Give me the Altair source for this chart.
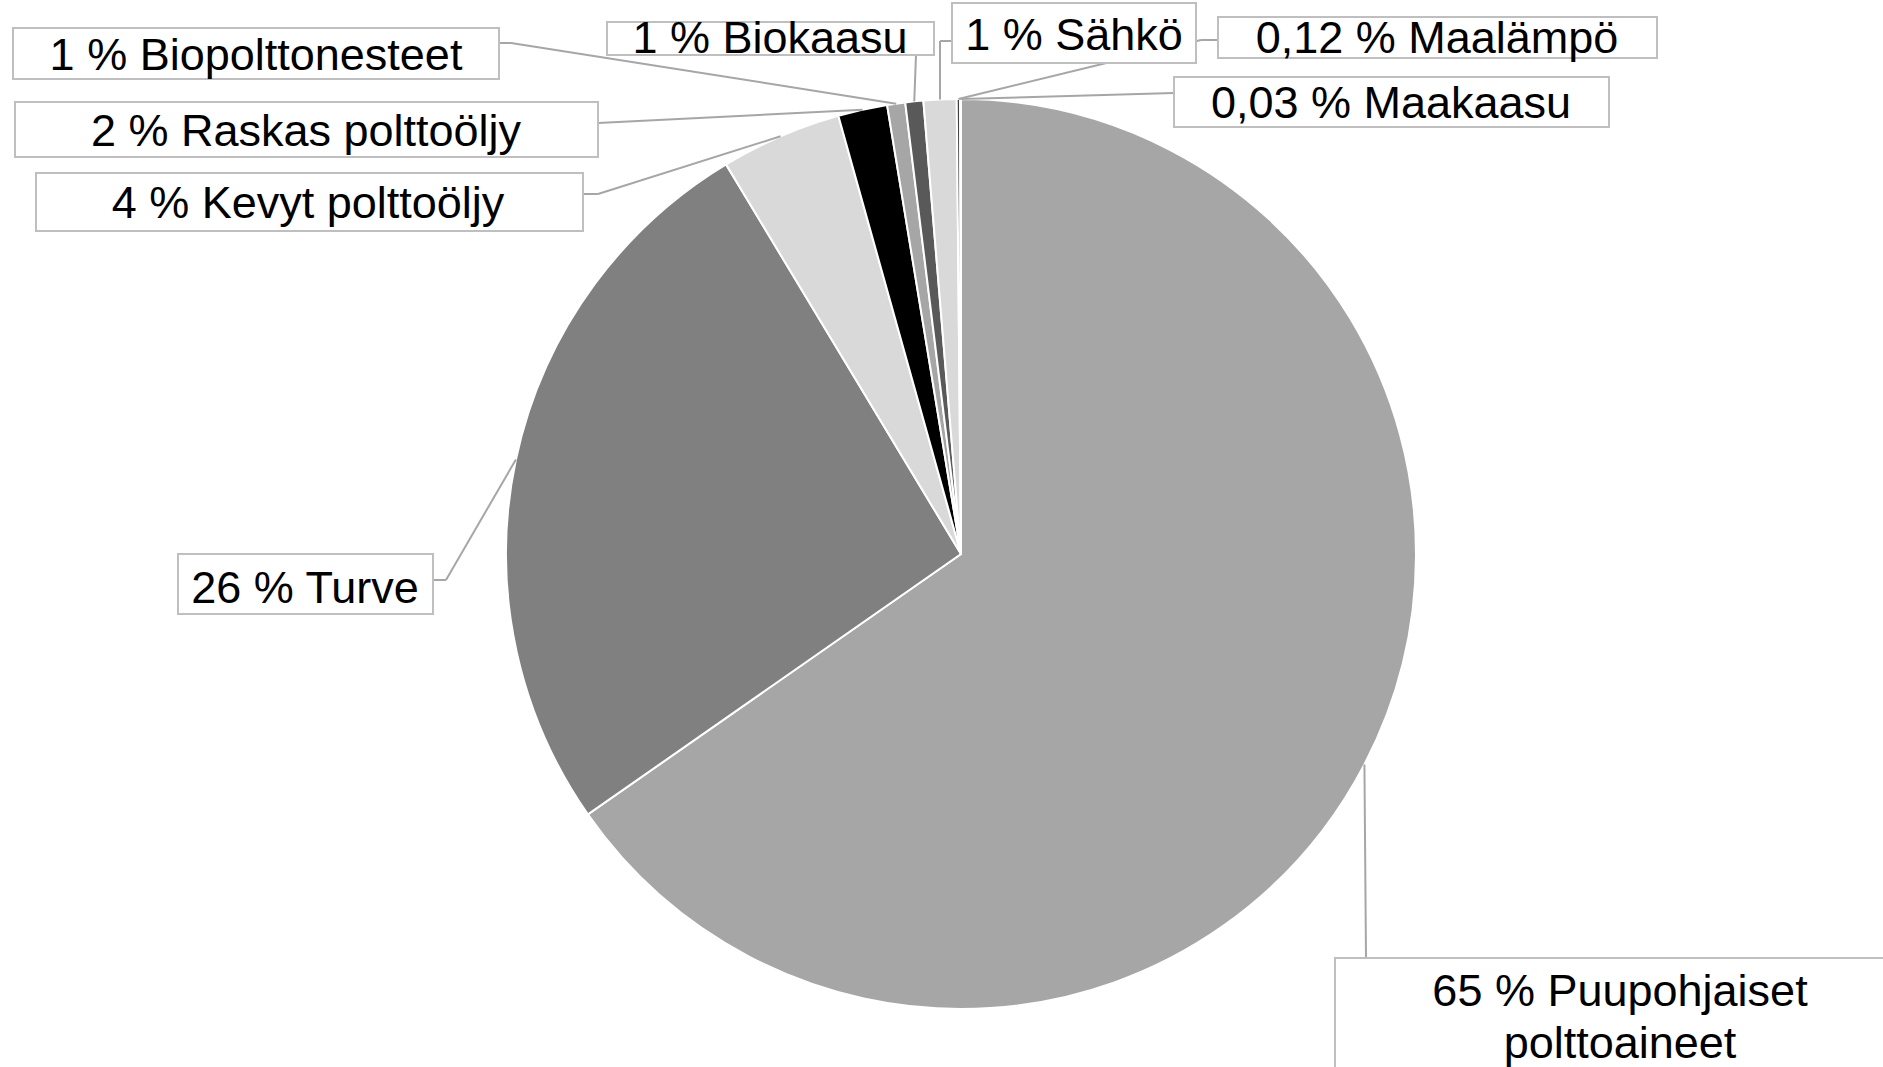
import math
import altair as alt
import pandas as pd

# ---------------- data ----------------
categories = [
    "Puupohjaiset polttoaineet", "Turve", "Kevyt polttoöljy", "Raskas polttoöljy",
    "Biopolttonesteet", "Biokaasu", "Sähkö", "Maalämpö", "Maakaasu",
]
values = [65.4, 26.1, 4.3, 1.75, 0.64, 0.64, 1.17, 0.12, 0.03]
labels = [
    "65 % Puupohjaiset\npolttoaineet", "26 % Turve", "4 % Kevyt polttoöljy",
    "2 % Raskas polttoöljy", "1 % Biopolttonesteet", "1 % Biokaasu",
    "1 % Sähkö", "0,12 % Maalämpö", "0,03 % Maakaasu",
]
colors = ["#a6a6a6", "#808080", "#d9d9d9", "#000000", "#a6a6a6",
          "#595959", "#d9d9d9", "#404040", "#bfbfbf"]

# ---------------- layout (pixels) ----------------
W, H = 1883, 1067
CX, CY, R = 961, 554, 455
FONT = "Liberation Sans, Arial, sans-serif"
FS = 45

box_x1 = [1335, 178, 36, 15, 13, 607, 952, 1218, 1174]
box_x2 = [1905, 433, 583, 598, 499, 934, 1196, 1657, 1609]
box_y1 = [958, 554, 173, 102, 28, 22, 3, 17, 77]
box_y2 = [1100, 614, 231, 157, 79, 55, 63, 58, 127]
text_x = [1620, 305, 308, 306, 256, 770, 1074, 1437, 1391]
text_y = [1006, 603, 218, 146, 70, 53, 50, 53, 118]
leader_paths = [
    [(1366, 958)],
    [(446, 580), (433, 580)],
    [(598, 194), (583, 194)],
    [(598, 123)],
    [(511, 43), (499, 43)],
    [(916, 55)],
    [(940, 41), (952, 41)],
    [(1201, 40), (1218, 40)],
    [(1174, 93)],
]

# ---------------- tables ----------------
pie_df = pd.DataFrame({"cat": categories, "value": values, "idx": range(len(values))})

total = sum(values)
segs = []
cum = 0.0
for i, v in enumerate(values):
    ang = 2 * math.pi * (cum + v / 2) / total
    cum += v
    ax = CX + R * math.sin(ang)
    ay = CY - R * math.cos(ang)
    pts = [(ax, ay)] + leader_paths[i]
    for (x1, y1), (x2, y2) in zip(pts[:-1], pts[1:]):
        segs.append({"x": x1, "y": y1, "x2": x2, "y2": y2})
seg_df = pd.DataFrame(segs)

box_df = pd.DataFrame({
    "x1": box_x1, "x2": box_x2, "y1": box_y1, "y2": box_y2,
    "tx": text_x, "ty": text_y, "label": labels,
})

# ---------------- marks ----------------
pie = alt.Chart(pie_df).mark_arc(radius=R, stroke="white", strokeWidth=2).encode(
    theta=alt.Theta("value:Q", stack=True),
    color=alt.Color("cat:N", scale=alt.Scale(domain=categories, range=colors), legend=None),
    order=alt.Order("idx:Q"),
    x=alt.value(CX),
    y=alt.value(CY),
)

leaders = alt.Chart(seg_df).mark_rule(color="#a6a6a6", strokeWidth=2).encode(
    x=alt.X("x:Q", scale=None, axis=None),
    y=alt.Y("y:Q", scale=None, axis=None),
    x2="x2:Q",
    y2="y2:Q",
)

boxes = alt.Chart(box_df).mark_rect(fill="white", stroke="#bfbfbf", strokeWidth=2).encode(
    x=alt.X("x1:Q", scale=None, axis=None),
    x2="x2:Q",
    y=alt.Y("y1:Q", scale=None, axis=None),
    y2="y2:Q",
)

texts = alt.Chart(box_df).mark_text(
    font=FONT, fontSize=FS, color="black", align="center",
    baseline="alphabetic", lineBreak="\n", lineHeight=52,
).encode(
    x=alt.X("tx:Q", scale=None, axis=None),
    y=alt.Y("ty:Q", scale=None, axis=None),
    text="label:N",
)

chart = alt.layer(pie, leaders, boxes, texts).properties(
    width=W, height=H, autosize="none", padding=0,
).configure_view(stroke=None)

chart.save("out.html", embed_options={"renderer": "svg", "actions": False})
